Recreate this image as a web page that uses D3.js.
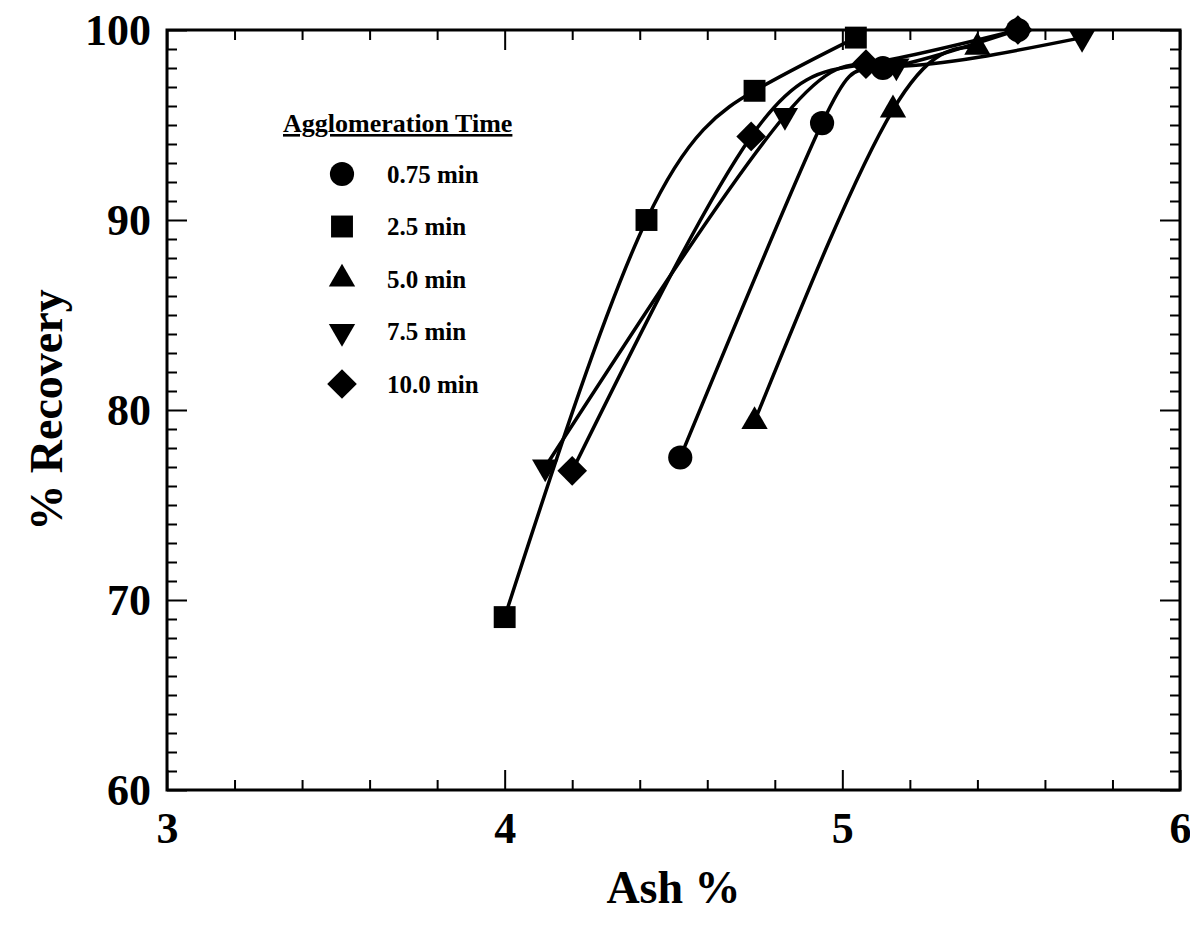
<!DOCTYPE html>
<html>
<head>
<meta charset="utf-8">
<script src="https://cdn.jsdelivr.net/npm/d3@7"></script>
<style>
  body { margin: 0; background: #fff; }
  text { font-family: "Liberation Serif", "Times New Roman", serif; font-weight: bold; fill: #000; }
</style>
</head>
<body>
<div id="chart"></div>
<script>
// Data (Ash %, % Recovery)
const seriesNames = ["0.75 min", "2.5 min", "5.0 min", "7.5 min", "10.0 min"];
const ash075 = [4.52, 4.94, 5.12, 5.52];
const rec075 = [77.5, 95.1, 98.0, 100.0];
const ash25 = [4.00, 4.42, 4.74, 5.04];
const rec25 = [69.1, 90.0, 96.8, 99.6];
const ash50 = [4.74, 5.15, 5.40];
const rec50 = [79.4, 95.8, 99.1];
const ash75 = [4.12, 4.83, 5.16, 5.71];
const rec75 = [77.0, 95.5, 98.1, 99.6];
const ash100 = [4.20, 4.73, 5.07, 5.52];
const rec100 = [76.8, 94.4, 98.2, 100.0];

const xTicks = [3, 4, 5, 6];
const yTicks = [60, 70, 80, 90, 100];

const W = 1190, H = 929;
const margin = { top: 30, right: 10, bottom: 139, left: 167 },
    width = 1180 - margin.left,
    height = 790 - margin.top;

const svg = d3.select("#chart")
    .append("svg")
    .attr("width", W)
    .attr("height", H);

const g = svg.append("g")
    .attr("transform", `translate(${margin.left},${margin.top})`);

const x = d3.scaleLinear().domain([3, 6]).range([0, width]);
const y = d3.scaleLinear().domain([60, 100]).range([height, 0]);

// minor tick values
const xMinor = d3.range(3, 6.001, 0.2).filter(v => Math.abs(v - Math.round(v)) > 1e-6);
const yMinor = d3.range(60, 100.001, 1).filter(v => v % 10 !== 0);

function styleAxis(sel) {
    sel.select(".domain").remove();
    sel.selectAll("line").attr("stroke", "#000").attr("stroke-width", 2);
}

// bottom axis (inward ticks)
g.append("g")
    .attr("transform", `translate(0,${height})`)
    .call(d3.axisBottom(x).tickValues(xTicks).tickFormat(d3.format("d"))
        .tickSize(-20).tickPadding(22))
    .call(styleAxis)
    .selectAll("text").style("font-size", "44px");
g.append("g")
    .attr("transform", `translate(0,${height})`)
    .call(d3.axisBottom(x).tickValues(xMinor).tickFormat("").tickSize(-10))
    .call(styleAxis);

// top axis
g.append("g")
    .call(d3.axisTop(x).tickValues(xTicks).tickFormat("").tickSize(-20))
    .call(styleAxis);
g.append("g")
    .call(d3.axisTop(x).tickValues(xMinor).tickFormat("").tickSize(-10))
    .call(styleAxis);

// left axis
g.append("g")
    .call(d3.axisLeft(y).tickValues(yTicks).tickFormat(d3.format("d"))
        .tickSize(-20).tickPadding(16))
    .call(styleAxis)
    .selectAll("text").style("font-size", "44px");
g.append("g")
    .call(d3.axisLeft(y).tickValues(yMinor).tickFormat("").tickSize(-10))
    .call(styleAxis);

// right axis
g.append("g")
    .attr("transform", `translate(${width},0)`)
    .call(d3.axisRight(y).tickValues(yTicks).tickFormat("").tickSize(-20))
    .call(styleAxis);
g.append("g")
    .attr("transform", `translate(${width},0)`)
    .call(d3.axisRight(y).tickValues(yMinor).tickFormat("").tickSize(-10))
    .call(styleAxis);

// frame
g.append("rect")
    .attr("width", width)
    .attr("height", height)
    .attr("fill", "none")
    .attr("stroke", "#000")
    .attr("stroke-width", 3);

// axis titles
svg.append("text")
    .attr("x", margin.left + x(4.5))
    .attr("y", 903)
    .attr("text-anchor", "middle")
    .style("font-size", "46px")
    .text("Ash %");

svg.append("text")
    .attr("transform", `translate(62,${margin.top + y(80)}) rotate(-90)`)
    .attr("text-anchor", "middle")
    .style("font-size", "46px")
    .text("% Recovery");

// series
const sym = {
    circle: d3.symbol().type(d3.symbolCircle).size(460),
    square: d3.symbol().type(d3.symbolSquare).size(480),
    triangle: d3.symbol().type(d3.symbolTriangle).size(300),
    diamond: d3.symbol().type(d3.symbolSquare).size(440)
};
const series = [
    { name: seriesNames[0], xs: ash075, ys: rec075, shape: "circle", rot: 0 },
    { name: seriesNames[1], xs: ash25, ys: rec25, shape: "square", rot: 0 },
    { name: seriesNames[2], xs: ash50, ys: rec50, shape: "triangle", rot: 0 },
    { name: seriesNames[3], xs: ash75, ys: rec75, shape: "triangle", rot: 180 },
    { name: seriesNames[4], xs: ash100, ys: rec100, shape: "diamond", rot: 45 }
];

const line = d3.line()
    .x(d => x(d[0]))
    .y(d => y(d[1]))
    .curve(d3.curveNatural);

series.forEach(s => {
    const pts = s.xs.map((v, i) => [v, s.ys[i]]);
    g.append("path")
        .datum(pts)
        .attr("d", line)
        .attr("fill", "none")
        .attr("stroke", "#000")
        .attr("stroke-width", 3.5);
});

series.forEach(s => {
    const pts = s.xs.map((v, i) => [v, s.ys[i]]);
    g.selectAll(null)
        .data(pts)
        .enter()
        .append("path")
        .attr("d", sym[s.shape]())
        .attr("transform", d => `translate(${x(d[0])},${y(d[1])}) rotate(${s.rot})`)
        .attr("fill", "#000");
});

// legend
const legend = svg.append("g").attr("transform", "translate(283,0)");
legend.append("text")
    .attr("x", 0)
    .attr("y", 132)
    .style("font-size", "26px")
    .style("text-decoration", "underline")
    .text("Agglomeration Time");

const legendY = d3.scaleLinear().domain([0, 4]).range([174, 384]);
series.forEach((s, i) => {
    legend.append("path")
        .attr("d", sym[s.shape]())
        .attr("transform", `translate(59,${legendY(i)}) rotate(${s.rot})`)
        .attr("fill", "#000");
    legend.append("text")
        .attr("x", 104)
        .attr("y", legendY(i))
        .attr("dy", "0.35em")
        .style("font-size", "25px")
        .text(s.name);
});
</script>
</body>
</html>
